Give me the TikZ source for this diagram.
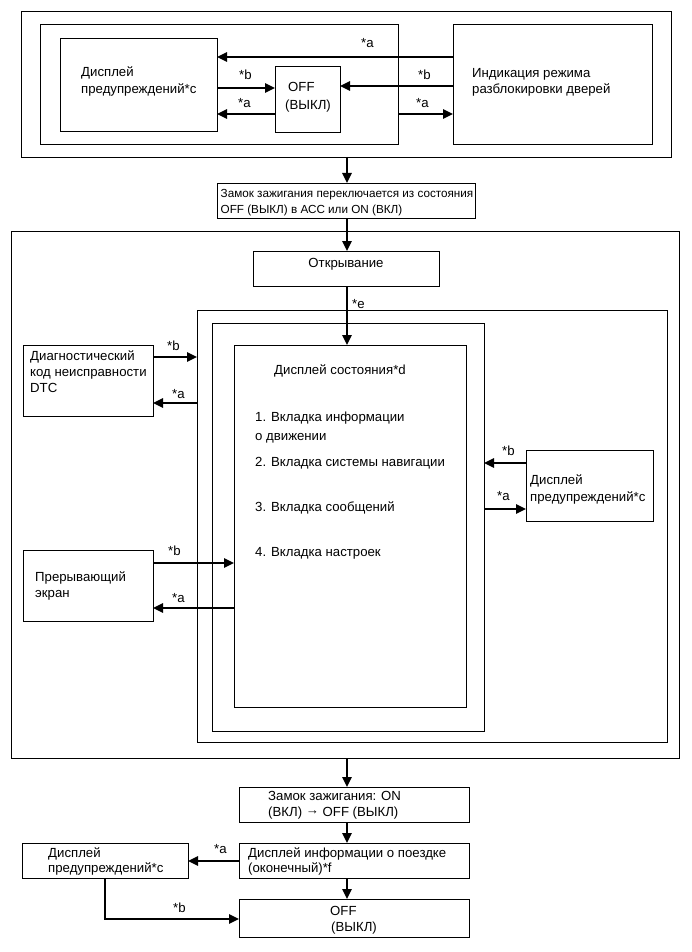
\documentclass[tikz,border=0pt]{standalone}
\usepackage{fontspec}
\setmainfont{Liberation Sans}
\usetikzlibrary{arrows.meta}
\newcommand\mybx[5]{\node[boxst, minimum width={#4-#2}, minimum height={#5-#3}] (#1) at (#2,#3) {};}
\newcommand\mytx[4]{\node[txt] (#1) at (#2,#3) {#4};}
\begin{document}
\begin{tikzpicture}[x=1pt,y=-1pt,
  boxst/.style={draw, line width=0.9pt, inner sep=0pt, outer sep=0pt, rectangle, anchor=north west},
  txt/.style={inner sep=0pt, anchor=base west, font=\fontsize{13.2}{15}\selectfont},
  small/.style={font=\fontsize{11.7}{14}\selectfont},
  arr/.style={line width=1.6pt, -{Triangle[length=10pt,width=9.5pt]}}]
\useasboundingbox (0,0) rectangle (691,952);
% ---------- top block
\mybx{topouter}{21}{11}{671}{157}
\mybx{topinner}{40}{24}{398}{144}
\mybx{warn1}{60}{38}{217}{131}
\mybx{off1}{275}{66}{340}{132}
\mybx{unlock}{453}{24}{652}{144}
\mytx{warn1a}{81}{77}{Дисплей}
\mytx{warn1b}{81}{94}{предупреждений*c}
\mytx{off1a}{288}{91.5}{OFF}
\mytx{off1b}{285}{109.5}{(ВЫКЛ)}
\mytx{unla}{472}{77.5}{Индикация режима}
\mytx{unlb}{472}{93.5}{разблокировки дверей}
\draw[arr] (unlock.west |- 0,57) -- (warn1.east |- 0,57);
\draw[arr] (warn1.east |- 0,88) -- (off1.west |- 0,88);
\draw[arr] (off1.west |- 0,114) -- (warn1.east |- 0,114);
\draw[arr] (unlock.west |- 0,86) -- (off1.east |- 0,86);
\draw[arr] (topinner.east |- 0,114) -- (unlock.west |- 0,114);
\mytx{l1}{361}{48}{*a}
\mytx{l2}{239}{80}{*b}
\mytx{l3}{238}{108}{*a}
\mytx{l4}{418}{80}{*b}
\mytx{l5}{416}{108}{*a}
% ---------- ignition 1
\mybx{ign1}{217}{183}{475}{218}
\node[txt, small] (ign1a) at (220.5,197) {Замок зажигания переключается из состояния};
\node[txt, small] (ign1b) at (220.5,213) {OFF (ВЫКЛ) в АСС или ON (ВКЛ)};
\draw[arr] (topouter.south -| 347,0) -- (ign1.north -| 347,0);
% ---------- middle block
\mybx{bigouter}{11}{231}{679}{758}
\mybx{open}{253}{251}{439}{286}
\node[txt, anchor=base] (opent) at (346,267) {Открывание};
\draw[arr] (ign1.south -| 347,0) -- (open.north -| 347,0);
\mybx{lvl2}{197}{310}{667}{742}
\mybx{lvl3}{212}{323}{484}{731}
\mybx{inner}{234}{345}{466}{707}
\draw[arr] (open.south -| 347,0) -- (inner.north -| 347,0);
\mytx{le}{352}{308}{*e}
\mytx{st0}{274}{374}{Дисплей состояния*d}
\mytx{st1}{255}{421}{1. Вкладка информации}
\mytx{st1b}{255}{440}{о движении}
\mytx{st2}{255}{466}{2. Вкладка системы навигации}
\mytx{st3}{255}{511}{3. Вкладка сообщений}
\mytx{st4}{255}{556}{4. Вкладка настроек}
% DTC
\mybx{diag}{23}{345}{153}{416}
\mytx{diaga}{30}{360.5}{Диагностический}
\mytx{diagb}{30}{376}{код неисправности}
\mytx{diagc}{30}{392}{DTC}
\draw[arr] (diag.east |- 0,357) -- (lvl2.west |- 0,357);
\draw[arr] (lvl2.west |- 0,403) -- (diag.east |- 0,403);
\mytx{l6}{167}{350}{*b}
\mytx{l7}{172}{398}{*a}
% interrupt
\mybx{intr}{23}{550}{153}{621}
\mytx{intra}{35}{581}{Прерывающий}
\mytx{intrb}{35}{597}{экран}
\draw[arr] (intr.east |- 0,563) -- (inner.west |- 0,563);
\draw[arr] (inner.west |- 0,608) -- (intr.east |- 0,608);
\mytx{l8}{168}{555}{*b}
\mytx{l9}{172}{602}{*a}
% warning right
\mybx{warn2}{526}{450}{653}{521}
\mytx{warn2a}{530}{484}{Дисплей}
\mytx{warn2b}{530}{501}{предупреждений*c}
\draw[arr] (warn2.west |- 0,463) -- (lvl3.east |- 0,463);
\draw[arr] (lvl3.east |- 0,509) -- (warn2.west |- 0,509);
\mytx{l10}{502}{455}{*b}
\mytx{l11}{497}{500}{*a}
% ---------- bottom
\mybx{ign2}{239}{787}{469}{822}
\mytx{ign2a}{268}{800.5}{Замок зажигания: ON}
\mytx{ign2b}{268}{816}{(ВКЛ) \raisebox{1.5pt}{→} OFF (ВЫКЛ)}
\draw[arr] (bigouter.south -| 347,0) -- (ign2.north -| 347,0);
\mybx{trip}{239}{843}{469}{878}
\mytx{tripa}{248}{857}{Дисплей информации о поездке}
\mytx{tripb}{248}{872.5}{(оконечный)*f}
\draw[arr] (ign2.south -| 347,0) -- (trip.north -| 347,0);
\mybx{off2}{239}{899}{469}{937}
\mytx{off2a}{330}{915.5}{OFF}
\mytx{off2b}{331}{931}{(ВЫКЛ)}
\draw[arr] (trip.south -| 347,0) -- (off2.north -| 347,0);
\mybx{warn3}{22}{843}{188}{878}
\mytx{warn3a}{48}{857}{Дисплей}
\mytx{warn3b}{48}{872.5}{предупреждений*c}
\draw[arr] (trip.west |- 0,861) -- (warn3.east |- 0,861);
\draw[arr] (warn3.south -| 105,0) -- (105,919) -- (off2.west |- 0,919);
\mytx{l12}{214}{853}{*a}
\mytx{l13}{173}{912}{*b}
\end{tikzpicture}
\end{document}
